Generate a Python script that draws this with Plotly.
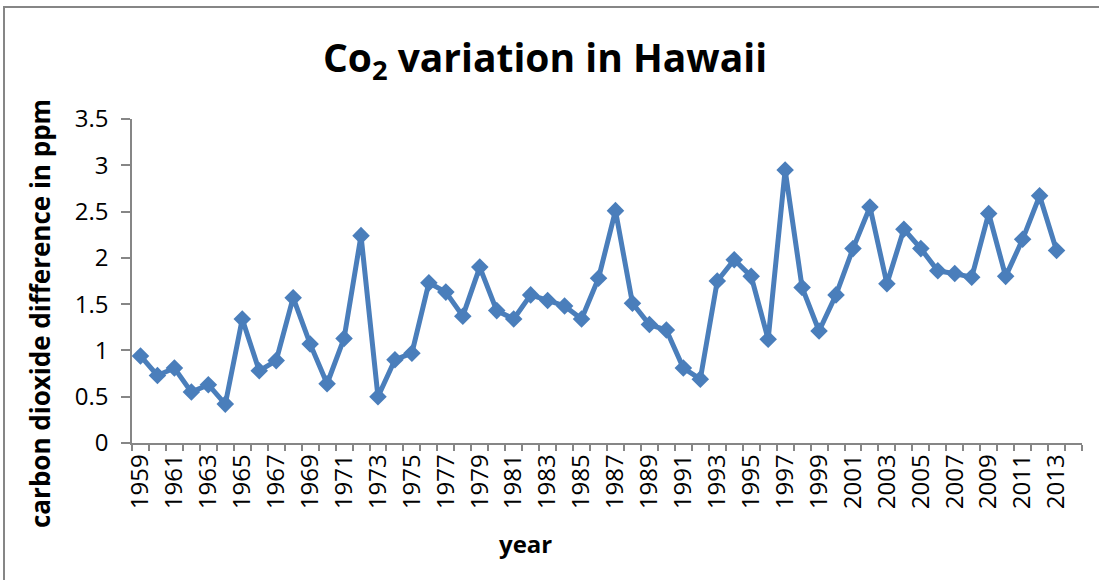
import plotly.graph_objects as go

years = list(range(1959, 2014))
co2_diff = [
    0.94, 0.73, 0.81, 0.55, 0.63, 0.42, 1.34, 0.78, 0.89, 1.57,
    1.07, 0.64, 1.13, 2.24, 0.50, 0.90, 0.97, 1.73, 1.63, 1.37,
    1.90, 1.43, 1.34, 1.60, 1.54, 1.48, 1.34, 1.78, 2.51, 1.51,
    1.28, 1.22, 0.81, 0.69, 1.75, 1.98, 1.80, 1.12, 2.95, 1.68,
    1.21, 1.60, 2.10, 2.55, 1.72, 2.31, 2.10, 1.86, 1.83, 1.79,
    2.48, 1.80, 2.20, 2.67, 2.08,
]
tick_years = list(range(1959, 2014, 2))
y_ticks = [0, 0.5, 1, 1.5, 2, 2.5, 3, 3.5]
y_tick_labels = ["0", "0.5", "1", "1.5", "2", "2.5", "3", "3.5"]

W, H = 1099, 580
L, R, T, B = 132, 1082, 119, 443

font = "Open Sans"
blue = "#4A7EBB"
gray = "#868686"


def px_x(p):
    return (p - L) / (R - L)


def px_y(p):
    return (B - p) / (B - T)


fig = go.Figure()
fig.add_trace(go.Scatter(
    x=years, y=co2_diff, mode="lines+markers",
    line=dict(color=blue, width=5),
    marker=dict(symbol="diamond", size=13.5, color=blue),
    showlegend=False, cliponaxis=False,
))

fig.update_layout(
    width=W, height=H,
    margin=dict(l=L, r=W - R, t=T, b=H - B, autoexpand=False),
    paper_bgcolor="white", plot_bgcolor="white",
    font=dict(family=font, color="black"),
    title=dict(
        text="<b>Co<sub>2</sub> variation in Hawaii</b>",
        x=545 / W, xanchor="center", xref="container",
        y=1 - 58 / H, yanchor="middle", yref="container",
        font=dict(size=39, family=font, color="black"),
    ),
    xaxis=dict(
        range=[1958.5, 2014.5], tickmode="array", tickvals=tick_years,
        ticktext=[str(y) for y in tick_years], tickangle=-90,
        ticks="", showgrid=False, zeroline=False,
        showline=True, linecolor=gray, linewidth=1.5,
        tickfont=dict(size=24, family=font, color="black"),
        minor=dict(ticks="outside", tick0=1958.5, dtick=1, ticklen=6,
                   tickcolor=gray, tickwidth=1.5, showgrid=False),
        fixedrange=True,
    ),
    yaxis=dict(
        range=[0, 3.5], tickmode="array", tickvals=y_ticks, ticktext=y_tick_labels,
        ticks="outside", ticklen=9, tickcolor=gray, tickwidth=1.5,
        showgrid=False, zeroline=False,
        showline=True, linecolor=gray, linewidth=1.5,
        tickfont=dict(size=24, family=font, color="black"),
        ticklabelstandoff=8,
        fixedrange=True,
    ),
    annotations=[
        dict(text="<b>carbon dioxide difference in ppm</b>", textangle=-90,
             x=px_x(40), y=px_y(314), xref="paper", yref="paper", showarrow=False,
             font=dict(size=26, family=font, color="black"),
             xanchor="center", yanchor="middle"),
        dict(text="<b>year</b>", x=px_x(525), y=px_y(543),
             xref="paper", yref="paper", showarrow=False,
             font=dict(size=24, family=font, color="black"),
             xanchor="center", yanchor="middle"),
    ],
    shapes=[
        dict(type="rect", xref="paper", yref="paper",
             x0=px_x(4), x1=px_x(1110), y0=px_y(590), y1=px_y(7),
             line=dict(color=gray, width=2), fillcolor="rgba(0,0,0,0)",
             layer="below"),
    ],
)

fig.write_html("out.html", config={"displayModeBar": False},
               post_script="document.body.style.margin='0';")
